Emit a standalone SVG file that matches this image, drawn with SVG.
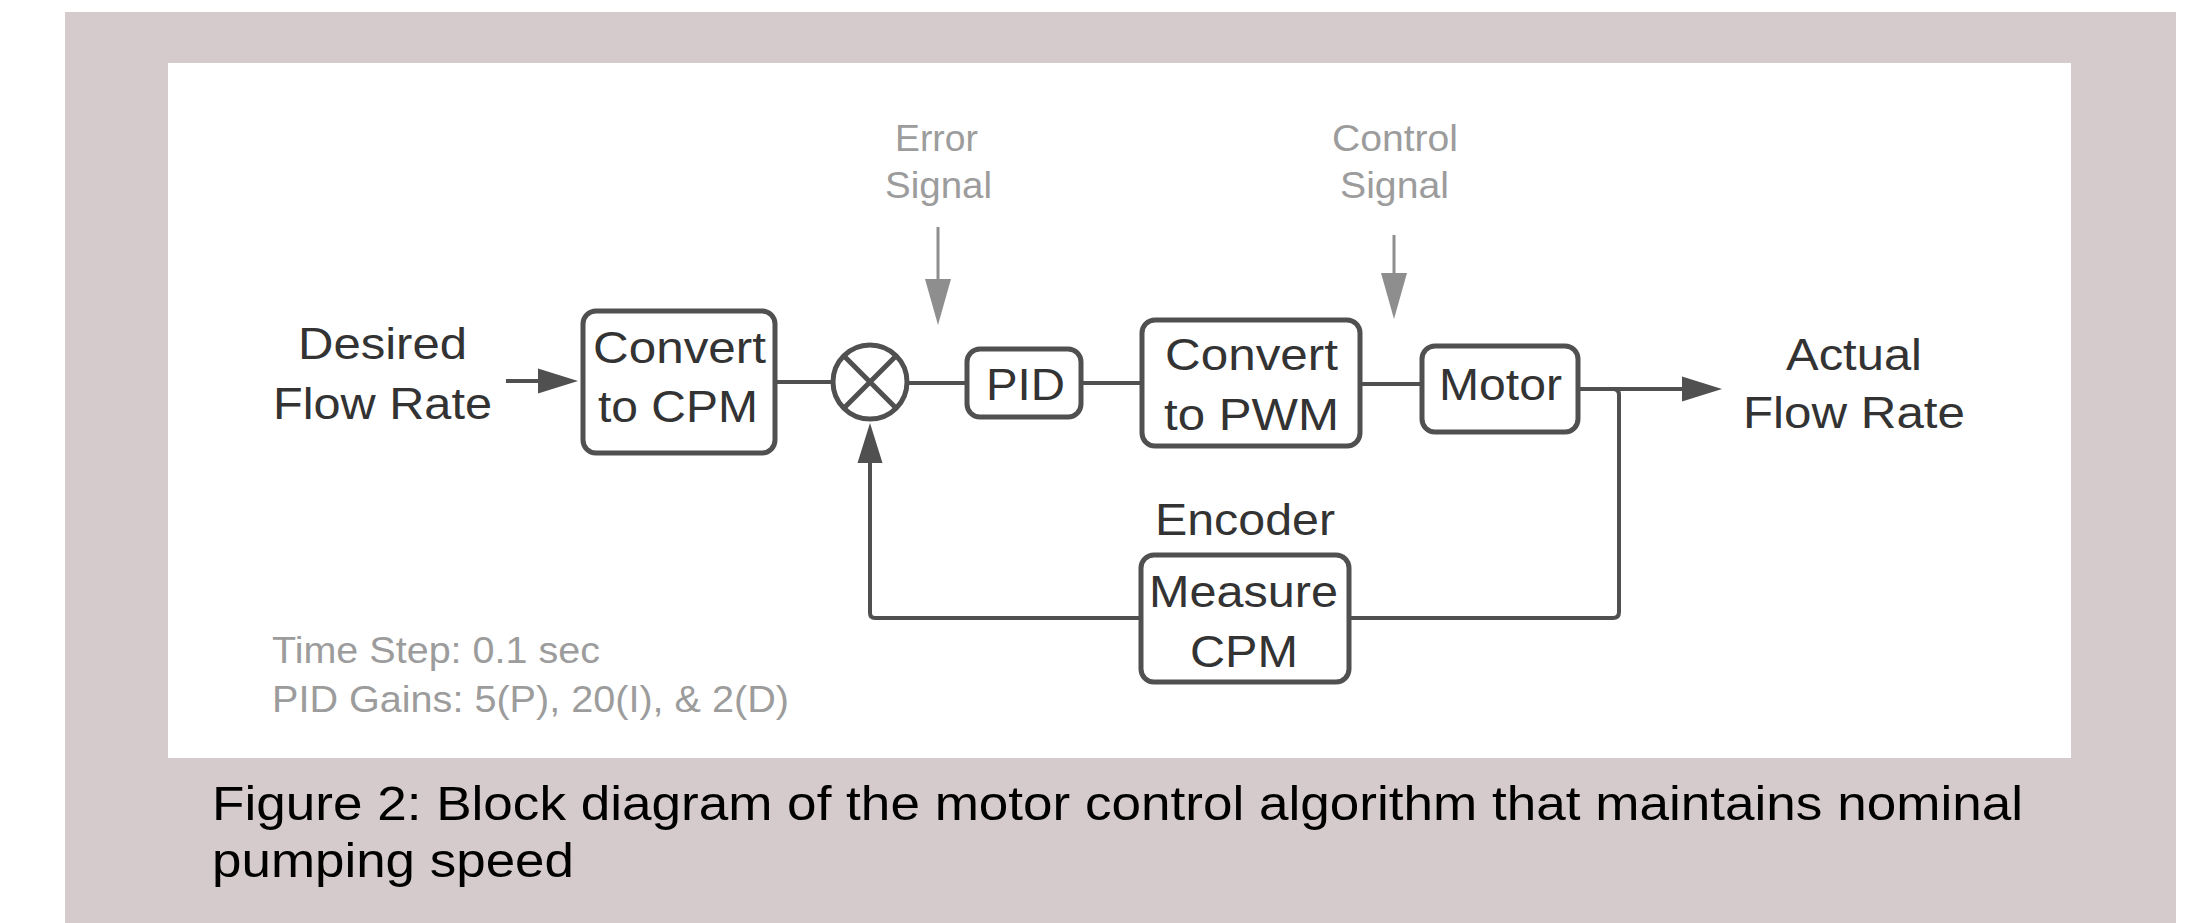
<svg xmlns="http://www.w3.org/2000/svg" width="2206" height="923" viewBox="0 0 2206 923">
  <style>
    .frame { fill: #d6cbcc; }
    .panel { fill: #ffffff; }
    .box { fill: #ffffff; stroke: #505050; stroke-width: 5; }
    .lbl { font-family: "Liberation Sans", Arial, sans-serif; font-size: 45px; fill: #333333; text-anchor: start; }
    .note { font-family: "Liberation Sans", Arial, sans-serif; font-size: 36px; fill: #9c9c9c; text-anchor: start; }
    .cap { font-family: "Liberation Sans", Arial, sans-serif; font-size: 49px; fill: #000000; }
    .wire { fill: none; stroke: #505050; stroke-width: 4; }
    .hint { fill: none; stroke: #8e8e8e; stroke-width: 3; }
  </style>
  <defs>
    <marker id="arrow" markerUnits="userSpaceOnUse" markerWidth="42" markerHeight="26" refX="0" refY="12.5" orient="auto" overflow="visible">
      <path d="M0,0 L40,12.5 L0,25 Z" fill="#505050"/>
    </marker>
    <marker id="arrow-grey" markerUnits="userSpaceOnUse" markerWidth="48" markerHeight="26" refX="0" refY="13" orient="auto" overflow="visible">
      <path d="M0,0 L46,13 L0,26 Z" fill="#8e8e8e"/>
    </marker>
  </defs>

  <!-- page background, figure frame and drawing panel -->
  <rect x="0" y="0" width="2206" height="923" fill="#ffffff"/>
  <rect class="frame" x="65" y="12" width="2111" height="911"/>
  <rect class="panel" x="168" y="63" width="1903" height="695"/>

  <!-- connectors -->
  <g id="connectors">
    <path class="wire" d="M506,381 H538" marker-end="url(#arrow)"/>
    <path class="wire" d="M777,382 H832"/>
    <path class="wire" d="M908,383 H965"/>
    <path class="wire" d="M1083,383 H1140"/>
    <path class="wire" d="M1362,384 H1420"/>
    <path class="wire" d="M1578,389 H1682" marker-end="url(#arrow)"/>
    <path class="wire" d="M1578,389 H1613 Q1619,389 1619,395 V612 Q1619,618 1613,618 H1351"/>
    <path class="wire" d="M1139,618 H875 Q870,618 870,613 V463" marker-end="url(#arrow)"/>
    <path class="hint" d="M938,227 V279" marker-end="url(#arrow-grey)"/>
    <path class="hint" d="M1394,235 V273" marker-end="url(#arrow-grey)"/>
  </g>

  <!-- input label -->
  <g id="desired-flow-rate">
    <text class="lbl" x="298" y="359" textLength="169" lengthAdjust="spacingAndGlyphs">Desired</text>
    <text class="lbl" x="273" y="419" textLength="219" lengthAdjust="spacingAndGlyphs">Flow Rate</text>
  </g>

  <g id="convert-cpm">
    <rect class="box" x="583" y="311" width="192" height="142" rx="13"/>
    <text class="lbl" x="593" y="363" textLength="173" lengthAdjust="spacingAndGlyphs">Convert</text>
    <text class="lbl" x="598" y="422" textLength="160" lengthAdjust="spacingAndGlyphs">to CPM</text>
  </g>

  <g id="summing-junction">
    <circle cx="870" cy="382" r="37" fill="#ffffff" stroke="#505050" stroke-width="5"/>
    <path d="M843.8,355.8 L896.2,408.2 M896.2,355.8 L843.8,408.2" stroke="#505050" stroke-width="5" fill="none"/>
  </g>

  <g id="pid">
    <rect class="box" x="967" y="349" width="114" height="68" rx="13"/>
    <text class="lbl" x="986" y="400" textLength="79" lengthAdjust="spacingAndGlyphs">PID</text>
  </g>

  <g id="convert-pwm">
    <rect class="box" x="1142" y="320" width="218" height="126" rx="13"/>
    <text class="lbl" x="1165" y="370" textLength="173" lengthAdjust="spacingAndGlyphs">Convert</text>
    <text class="lbl" x="1164" y="430" textLength="175" lengthAdjust="spacingAndGlyphs">to PWM</text>
  </g>

  <g id="motor">
    <rect class="box" x="1422" y="346" width="156" height="86" rx="13"/>
    <text class="lbl" x="1439" y="400" textLength="123" lengthAdjust="spacingAndGlyphs">Motor</text>
  </g>

  <g id="actual-flow-rate">
    <text class="lbl" x="1786" y="370" textLength="136" lengthAdjust="spacingAndGlyphs">Actual</text>
    <text class="lbl" x="1743" y="428" textLength="222" lengthAdjust="spacingAndGlyphs">Flow Rate</text>
  </g>

  <g id="encoder">
    <text class="lbl" x="1155" y="535" textLength="180" lengthAdjust="spacingAndGlyphs">Encoder</text>
    <rect class="box" x="1141" y="555" width="208" height="127" rx="13"/>
    <text class="lbl" x="1149" y="607" textLength="189" lengthAdjust="spacingAndGlyphs">Measure</text>
    <text class="lbl" x="1190" y="667" textLength="108" lengthAdjust="spacingAndGlyphs">CPM</text>
  </g>

  <g id="error-signal">
    <text class="note" x="895" y="151" textLength="83" lengthAdjust="spacingAndGlyphs">Error</text>
    <text class="note" x="885" y="198" textLength="107" lengthAdjust="spacingAndGlyphs">Signal</text>
  </g>

  <g id="control-signal">
    <text class="note" x="1332" y="151" textLength="126" lengthAdjust="spacingAndGlyphs">Control</text>
    <text class="note" x="1340" y="198" textLength="109" lengthAdjust="spacingAndGlyphs">Signal</text>
  </g>

  <g id="settings">
    <text class="note" x="272" y="663" textLength="328" lengthAdjust="spacingAndGlyphs">Time Step: 0.1 sec</text>
    <text class="note" x="272" y="712" textLength="517" lengthAdjust="spacingAndGlyphs">PID Gains: 5(P), 20(I), &amp; 2(D)</text>
  </g>

  <g id="caption">
    <text class="cap" x="212" y="820" textLength="1811" lengthAdjust="spacingAndGlyphs">Figure 2: Block diagram of the motor control algorithm that maintains nominal</text>
    <text class="cap" x="212" y="877" textLength="362" lengthAdjust="spacingAndGlyphs">pumping speed</text>
  </g>
</svg>
